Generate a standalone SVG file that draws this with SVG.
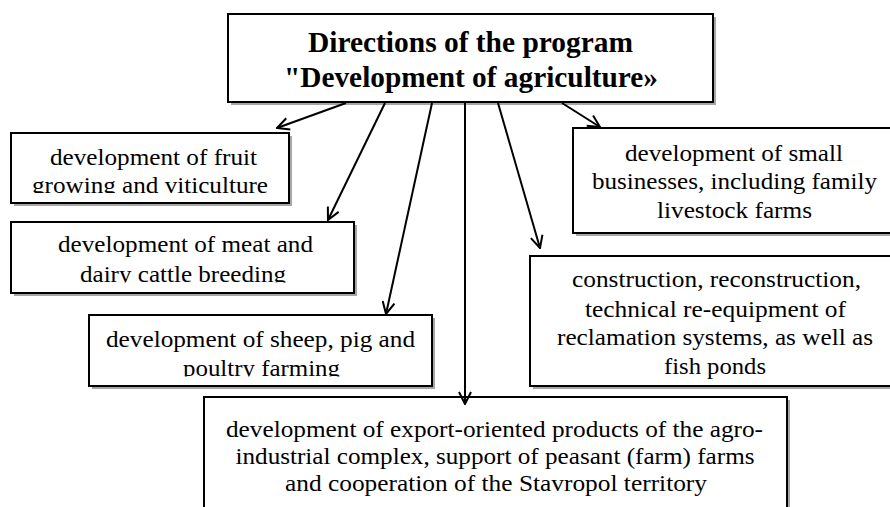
<svg xmlns="http://www.w3.org/2000/svg" width="890" height="507" viewBox="0 0 890 507">
  <style>
    .box { fill: #ffffff; stroke: #000000; stroke-width: 2; }
    .shadow { fill: #a6a6a6; stroke: none; }
    .t { font-family: "Liberation Serif", "Times New Roman", serif; font-size: 24px; fill: #000; text-anchor: middle; }
    .title { font-family: "Liberation Serif", "Times New Roman", serif; font-size: 29px; font-weight: bold; fill: #000; text-anchor: middle; }
    .conn { stroke: #000; stroke-width: 2; fill: none; marker-end: url(#arr); }
  </style>
  <defs>
    <marker id="arr" viewBox="0 0 14 14" refX="13" refY="7" markerWidth="14" markerHeight="14" markerUnits="userSpaceOnUse" orient="auto">
      <path d="M1,1 L13,7 L1,13" fill="none" stroke="#000" stroke-width="2"/>
    </marker>
    <clipPath id="c1"><rect x="0" y="120" width="300" height="73"/></clipPath>
    <clipPath id="c2"><rect x="0" y="210" width="360" height="72.5"/></clipPath>
    <clipPath id="c3"><rect x="80" y="300" width="360" height="76.5"/></clipPath>
  </defs>
  <rect width="890" height="507" fill="#ffffff"/>

  <g id="title">
    <rect class="shadow" x="231" y="17" width="485" height="88"/>
    <rect class="box" x="228" y="14" width="485" height="88"/>
    <text class="title" x="470.5" y="51.5" textLength="325" lengthAdjust="spacingAndGlyphs">Directions of the program</text>
    <text class="title" x="471" y="87" textLength="374" lengthAdjust="spacingAndGlyphs">"Development of agriculture»</text>
  </g>

  <g id="fruit">
    <rect class="shadow" x="14" y="136" width="278" height="70"/>
    <rect class="box" x="11" y="133" width="278" height="70"/>
    <g clip-path="url(#c1)">
      <text class="t" x="153.5" y="165" textLength="207" lengthAdjust="spacingAndGlyphs">development of fruit</text>
      <text class="t" x="150" y="193" textLength="236" lengthAdjust="spacingAndGlyphs">growing and viticulture</text>
    </g>
  </g>

  <g id="meat">
    <rect class="shadow" x="14" y="225" width="343" height="71"/>
    <rect class="box" x="11" y="222" width="343" height="71"/>
    <g clip-path="url(#c2)">
      <text class="t" x="185.5" y="252" textLength="255" lengthAdjust="spacingAndGlyphs">development of meat and</text>
      <text class="t" x="183" y="281.5" textLength="206" lengthAdjust="spacingAndGlyphs">dairy cattle breeding</text>
    </g>
  </g>

  <g id="sheep">
    <rect class="shadow" x="92" y="318" width="343" height="71"/>
    <rect class="box" x="89" y="315" width="343" height="71"/>
    <g clip-path="url(#c3)">
      <text class="t" x="260.5" y="347" textLength="309" lengthAdjust="spacingAndGlyphs">development of sheep, pig and</text>
      <text class="t" x="261.5" y="375.5" textLength="157" lengthAdjust="spacingAndGlyphs">poultry farming</text>
    </g>
  </g>

  <g id="small-business">
    <rect class="shadow" x="576" y="131" width="330" height="105"/>
    <rect class="box" x="573" y="128" width="330" height="105"/>
    <text class="t" x="734" y="161" textLength="218" lengthAdjust="spacingAndGlyphs">development of small</text>
    <text class="t" x="734.5" y="189" textLength="285" lengthAdjust="spacingAndGlyphs">businesses, including family</text>
    <text class="t" x="734.5" y="218" textLength="155" lengthAdjust="spacingAndGlyphs">livestock farms</text>
  </g>

  <g id="reclamation">
    <rect class="shadow" x="533" y="259" width="370" height="130"/>
    <rect class="box" x="530" y="256" width="370" height="130"/>
    <text class="t" x="716.5" y="287" textLength="289" lengthAdjust="spacingAndGlyphs">construction, reconstruction,</text>
    <text class="t" x="715.5" y="317" textLength="261" lengthAdjust="spacingAndGlyphs">technical re-equipment of</text>
    <text class="t" x="715" y="345" textLength="316" lengthAdjust="spacingAndGlyphs">reclamation systems, as well as</text>
    <text class="t" x="715" y="374" textLength="102" lengthAdjust="spacingAndGlyphs">fish ponds</text>
  </g>

  <g id="export">
    <rect class="shadow" x="207" y="400" width="583" height="120"/>
    <rect class="box" x="204" y="397" width="583" height="120"/>
    <text class="t" x="494.5" y="437" textLength="537" lengthAdjust="spacingAndGlyphs">development of export-oriented products of the agro-</text>
    <text class="t" x="495" y="464" textLength="519" lengthAdjust="spacingAndGlyphs">industrial complex, support of peasant (farm) farms</text>
    <text class="t" x="496" y="491" textLength="422" lengthAdjust="spacingAndGlyphs">and cooperation of the Stavropol territory</text>
  </g>

  <g id="connectors">
    <line class="conn" x1="346" y1="103" x2="277" y2="128"/>
    <line class="conn" x1="385" y1="103" x2="328" y2="220"/>
    <line class="conn" x1="432" y1="103" x2="386" y2="314"/>
    <line class="conn" x1="465" y1="103" x2="465" y2="404"/>
    <line class="conn" x1="498" y1="103" x2="540" y2="248"/>
    <line class="conn" x1="562" y1="103" x2="600" y2="127"/>
  </g>
</svg>
